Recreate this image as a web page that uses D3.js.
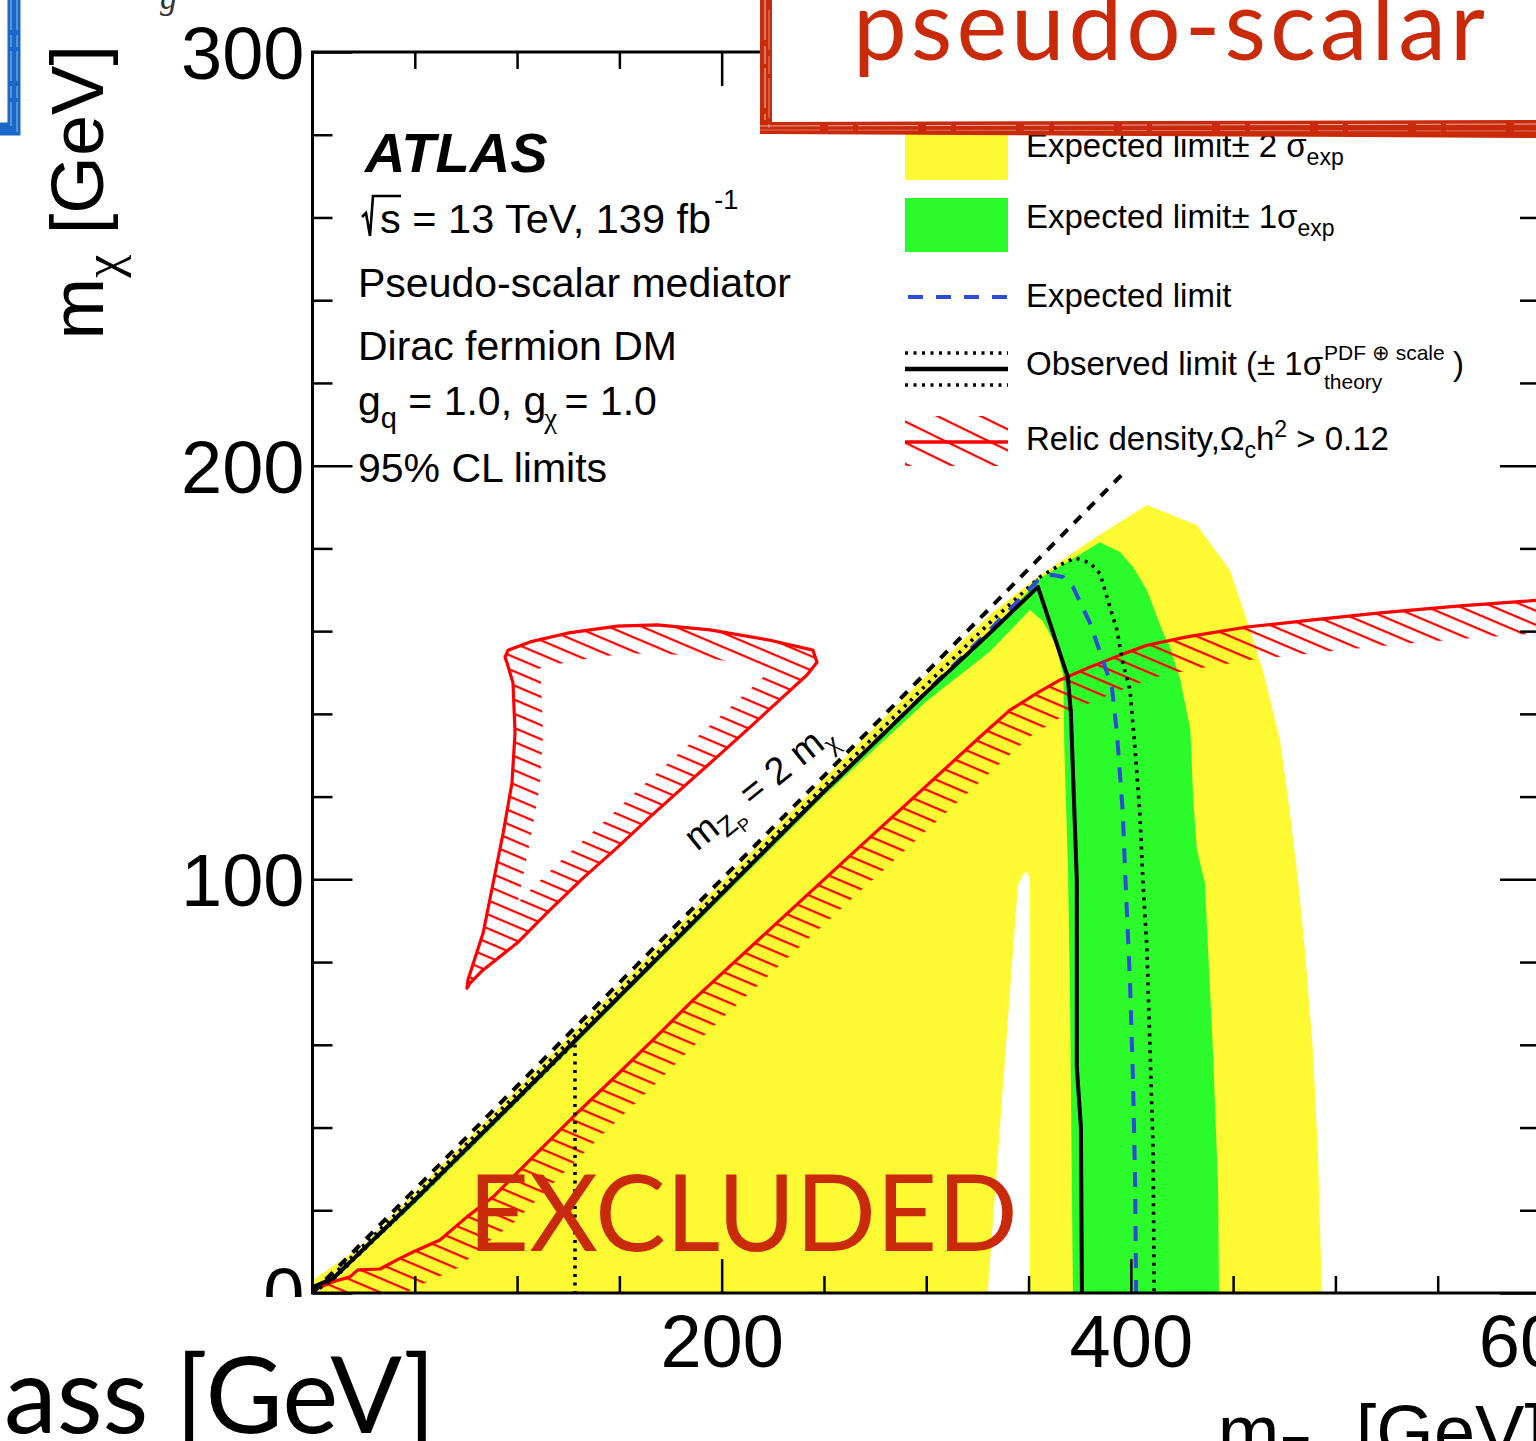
<!DOCTYPE html>
<html>
<head>
<meta charset="utf-8">
<script src="https://cdn.jsdelivr.net/npm/d3@7"></script>
<style>
  html, body { margin: 0; padding: 0; background: #fff; overflow: hidden; }
  svg { display: block; }
  text { white-space: pre; }
</style>
</head>
<body>
<svg id="chart" width="1536" height="1441"></svg>
<script>
// ---- axis ranges and ticks (GeV) ----
const xDomain = [0, 600];
const yDomain = [0, 300];
const xMajorTicks = [200, 400, 600];
const xMinorTicks = [50, 100, 150, 250, 300, 350, 450, 500, 550];
const yMajorTicks = [0, 100, 200, 300];
const yMinorTicks = [20, 40, 60, 80, 120, 140, 160, 180, 220, 240, 260, 280];

// ---- exclusion contours, [m_Zp, m_chi] in GeV ----
const expPlus2 = [[0,0],[0,3],[25,11.8],[50,24.3],[100,49.3],[150,74.3],[200,99.3],[250,124.3],[300,149.2],
  [331,163.9],[352.2,172.3],[380,181.8],[407.9,190.5],[432.3,185.6],[448.4,174.8],[456.7,162.7],[464.5,150.6],
  [472.9,133.7],[477.8,116.0],[481.7,99.8],[485.1,82.9],[489.0,58.7],[491.4,34.6],[493.4,0]];
const expPlus1 = [[0,0],[10,3.6],[50,22.6],[100,47.1],[150,71.8],[200,96.6],[250,121.3],[300,145.3],[331,159.6],
  [355.6,172.8],[384.9,181.5],[394.7,179.1],[401.1,175.5],[407.9,169.9],[412.8,163.4],[415.9,159.5],[419.1,156.2],
  [424.2,148.2],[429.1,136.1],[430.5,119.2],[432.3,107.1],[436.2,99.1],[440.1,58.7],[442.6,26.6],[443.1,0]];
const expMinus1 = [[0,0],[10,3],[50,21.5],[100,46],[150,70.8],[200,95.5],[250,120.2],[300,143],[331,155],
  [350.7,165.1],[357,162.4],[363.8,156.2],[367,149],[367.5,132],[369.3,102.2],[370.3,70.8],[371.7,0]];
const expMinus2 = [[330,0],[344.8,98.6],[347.7,101.5],[349.6,101.8],[350.6,99.8],[350.6,0]];

const expected = [[0.5,1.5],[10,3.5],[50,22.5],[100,47],[150,71.7],[200,96.5],[250,121.2],[300,145.3],[331,160.2],
  [354.6,172.3],[361.4,173.6],[366.8,173.1],[371.7,170.7],[380.0,162.0],[386.3,153.0],[390.7,146.5],[393.2,135.4],
  [396.1,116.0],[397.1,103.0],[399.6,74.9],[401.1,50.8],[402.1,26.6],[402.6,0]];
const observed = [[0.5,1.5],[10,3.5],[50,22.5],[100,47],[150,71.7],[200,96.5],[250,121.2],[300,145.2],[331,159.5],
  [354.6,170.7],[369.2,148.9],[370.7,140.2],[373.6,99.8],[373.6,54.6],[375.6,40.1],[376.1,0]];
const obsTheoryUp = [[0,0],[10,4.3],[50,23.5],[100,48.2],[150,73],[200,97.7],[250,122.5],[300,147],[331,162],
  [355.6,173.1],[365.4,176.0],[372.7,177.7],[380.0,176.5],[384.9,173.9],[388.8,167.5],[393.2,160.3],[396.1,152.3],
  [399.6,145.8],[402.0,132.0],[404.4,116.0],[405.9,99.8],[407.9,82.9],[409.4,58.7],[410.9,34.6],[411.4,0]];
const obsTheoryDown = [[0,0],[10,3.3],[50,22.3],[100,46.8],[128.3,60.6],[128.3,0]];
const kinematicLimit = [[0,0],[396,198]];

// ---- relic density contours ----
const relicLower = [[1,0.5],[2.7,1.2],[10,2.7],[18.3,3.9],[22.2,5.6],[33,5.8],[41.3,8],[49.1,9.9],[62.3,12.8],
  [75.5,18.4],[88.2,23.2],[107.8,32.9],[129.3,43.5],[148.8,52.7],[169.8,62.8],[186.0,70.8],[257.8,103.5],
  [326.2,134.4],[340.9,140.9],[354.1,145.0],[365.4,148.2],[380.0,151.3],[394.7,154.2],[407.9,156.6],
  [427.4,158.6],[456.7,161.0],[489.0,162.7],[521.8,164.4],[560.9,166.1],[600,167.5]];
const relicIsland = [[95.6,155.4],[106.4,157.4],[124.5,159.5],[148.9,161.2],[168.4,161.5],[194.3,160.3],
  [223.7,157.8],[244.6,155.4],[246.6,152.5],[241.7,149.4],[230.0,144.1],[213.9,136.8],[197.8,129.6],
  [181.2,122.3],[165.0,115.1],[148.8,107.6],[132.2,100.3],[116.1,92.6],[100.0,84.6],[83.4,78.1],[77.0,74.9],
  [75.5,73.7],[76.0,75.7],[83.4,87.0],[88.3,99.1],[93.2,111.2],[97.5,123.3],[99.0,135.4],[98.0,147.5],
  [95.1,152.3],[94.1,153.7]];

// ---- text ----
const infoLines = ["Pseudo-scalar mediator", "Dirac fermion DM", "95% CL limits"];
const legendLabels = ["Expected limit", "Observed limit (\u00b1 1", "Relic density,"];

const SANS = "'Liberation Sans', Arial, Helvetica, sans-serif";
const SERIF = "'Liberation Serif', 'Times New Roman', serif";
const LATO = "Lato, 'Open Sans', sans-serif";
const YELLOW = "#fdf933", GREEN = "#2bfb2b", BLUE = "#2b4bd8", RED = "#ff0000", SLIDE_RED = "#c92a0a";

const svg = d3.select("#chart");
const x = d3.scaleLinear().domain(xDomain).range([312.5, 1540]);
const y = d3.scaleLinear().domain(yDomain).range([1293, 52]);
const line = d3.line().x(d => x(d[0])).y(d => y(d[1]));
const closed = pts => line(pts) + "Z";

const defs = svg.append("defs");
defs.append("clipPath").attr("id", "plotArea").append("rect")
  .attr("x", x(0)).attr("y", y(300)).attr("width", x(600) - x(0)).attr("height", y(0) - y(300));

// hatches marking the relic-density excluded side
function hatchPattern(id, spacing, angle) {
  const p = defs.append("pattern").attr("id", id).attr("patternUnits", "userSpaceOnUse")
    .attr("width", 80).attr("height", spacing).attr("patternTransform", `rotate(${angle})`);
  p.append("rect").attr("x", 0).attr("y", 0).attr("width", 80).attr("height", 2.2).attr("fill", RED);
}
hatchPattern("hatch", 13, 23);
hatchPattern("hatchKey", 19, 26);

const relicBelow = relicLower.concat([[620, 167.5], [620, -20], [0, -20], [0, 0.5]]);
defs.append("clipPath").attr("id", "relicLowerSide").append("path").attr("d", closed(relicBelow));
defs.append("clipPath").attr("id", "relicIslandInside").append("path").attr("d", closed(relicIsland));

// ---------------- plot contents ----------------
const plot = svg.append("g").attr("clip-path", "url(#plotArea)");

plot.append("path").attr("d", closed(expPlus2)).attr("fill", YELLOW);
plot.append("path").attr("d", closed(expPlus1)).attr("fill", GREEN);
plot.append("path").attr("d", closed(expMinus1)).attr("fill", YELLOW);
plot.append("path").attr("d", closed(expMinus2)).attr("fill", "#fff");

// relic density: hatched band on the excluded side, then the contour itself
plot.append("g").attr("clip-path", "url(#relicLowerSide)")
  .append("path").attr("d", line(relicLower)).attr("fill", "none")
  .attr("stroke", "url(#hatch)").attr("stroke-width", 66).attr("stroke-linejoin", "round");
plot.append("g").attr("clip-path", "url(#relicIslandInside)")
  .append("path").attr("d", closed(relicIsland)).attr("fill", "none")
  .attr("stroke", "url(#hatch)").attr("stroke-width", 56).attr("stroke-linejoin", "round");
plot.append("path").attr("d", line(relicLower)).attr("fill", "none").attr("stroke", RED)
  .attr("stroke-width", 3.2).attr("stroke-linejoin", "round");
plot.append("path").attr("d", closed(relicIsland)).attr("fill", "none").attr("stroke", RED)
  .attr("stroke-width", 3.2).attr("stroke-linejoin", "round");

// m_Zp = 2 m_chi
plot.append("path").attr("d", line(kinematicLimit)).attr("fill", "none").attr("stroke", "#000")
  .attr("stroke-width", 4).attr("stroke-dasharray", "10,9");

// observed +-1 sigma theory
[obsTheoryUp, obsTheoryDown].forEach(c => {
  plot.append("path").attr("d", line(c)).attr("fill", "none").attr("stroke", "#000")
    .attr("stroke-width", 3.6).attr("stroke-dasharray", "3,5.5");
});
// expected
plot.append("path").attr("d", line(expected)).attr("fill", "none").attr("stroke", BLUE)
  .attr("stroke-width", 4).attr("stroke-dasharray", "15,12");
// observed
plot.append("path").attr("d", line(observed)).attr("fill", "none").attr("stroke", "#000")
  .attr("stroke-width", 4).attr("stroke-linejoin", "round");

// ---------------- axes ----------------
function styleAxis(g) {
  g.select(".domain").remove();
  g.selectAll(".tick line").attr("stroke", "#000").attr("stroke-width", 2.5);
  g.selectAll(".tick text").attr("font-family", SANS).attr("font-size", 74).attr("fill", "#000");
}
const axes = svg.append("g");
axes.append("g").attr("transform", `translate(0,${y(0)})`)
  .call(d3.axisBottom(x).tickValues(xMajorTicks).tickSize(-34).tickPadding(21).tickFormat(d3.format("d")))
  .call(styleAxis);
axes.append("g").attr("transform", `translate(0,${y(0)})`)
  .call(d3.axisBottom(x).tickValues(xMinorTicks).tickSize(-17).tickFormat(() => "")).call(styleAxis);
axes.append("g").attr("transform", `translate(0,${y(300)})`)
  .call(d3.axisTop(x).tickValues(xMajorTicks).tickSize(-34).tickFormat(() => "")).call(styleAxis);
axes.append("g").attr("transform", `translate(0,${y(300)})`)
  .call(d3.axisTop(x).tickValues(xMinorTicks).tickSize(-17).tickFormat(() => "")).call(styleAxis);
const yAx = axes.append("g").attr("transform", `translate(${x(0)},0)`)
  .call(d3.axisLeft(y).tickValues(yMajorTicks).tickSize(-40).tickPadding(8).tickFormat(d3.format("d")))
  .call(styleAxis);
yAx.selectAll(".tick text").attr("dy", "0.36em");
axes.append("g").attr("transform", `translate(${x(0)},0)`)
  .call(d3.axisLeft(y).tickValues(yMinorTicks).tickSize(-20).tickFormat(() => "")).call(styleAxis);
axes.append("g").attr("transform", `translate(${x(600)},0)`)
  .call(d3.axisRight(y).tickValues(yMajorTicks).tickSize(-40).tickFormat(() => "")).call(styleAxis);
axes.append("g").attr("transform", `translate(${x(600)},0)`)
  .call(d3.axisRight(y).tickValues(yMinorTicks).tickSize(-20).tickFormat(() => "")).call(styleAxis);
axes.append("rect").attr("x", x(0)).attr("y", y(300)).attr("width", x(600) - x(0)).attr("height", y(0) - y(300))
  .attr("fill", "none").attr("stroke", "#000").attr("stroke-width", 3);

// ---------------- text helpers ----------------
function rich(parent, px, py, parts, opts = {}) {
  const t = parent.append("text").attr("x", px).attr("y", py)
    .attr("font-family", opts.font || SANS).attr("font-size", opts.size || 32).attr("fill", opts.fill || "#000");
  if (opts.anchor) t.attr("text-anchor", opts.anchor);
  let cur = 0;
  parts.forEach(p => {
    const s = t.append("tspan").text(p.t);
    const shift = p.shift || 0;
    if (shift !== cur) { s.attr("dy", shift - cur); cur = shift; }
    if (p.size) s.attr("font-size", p.size);
    if (p.font) s.attr("font-family", p.font);
    if (p.style) s.attr("font-style", p.style);
    if (p.weight) s.attr("font-weight", p.weight);
    if (p.dx) s.attr("dx", p.dx);
  });
  return t;
}

// axis titles
const yTitle = svg.append("g").attr("transform", "translate(103,45) rotate(-90)");
rich(yTitle, 0, 0, [{ t: "m" }, { t: "\u03c7", size: 52, shift: 17, font: SERIF }, { t: " [GeV]", shift: 0 }],
  { size: 74, anchor: "end" });
rich(svg, 1545, 1457, [{ t: "m" }, { t: "Z", size: 52, shift: 16 }, { t: "P", size: 36, shift: 28 },
  { t: " [GeV]", shift: 0 }], { size: 74, anchor: "end" });

// ATLAS block
svg.append("text").attr("x", 365).attr("y", 172).attr("font-family", SANS).attr("font-size", 56)
  .attr("font-weight", "bold").attr("font-style", "italic").text("ATLAS");
svg.append("path").attr("d", "M362,217 L366,213 L370,236 L373,196 L401,196")
  .attr("fill", "none").attr("stroke", "#000").attr("stroke-width", 2.6);
rich(svg, 380, 233, [{ t: "s = 13 TeV, 139 fb" }, { t: "-1", size: 27, shift: -24, dx: 3 }], { size: 41.5 });
svg.append("text").attr("x", 358).attr("y", 297).attr("font-family", SANS).attr("font-size", 41).text(infoLines[0]);
svg.append("text").attr("x", 358).attr("y", 360).attr("font-family", SANS).attr("font-size", 41).text(infoLines[1]);
rich(svg, 358, 415, [{ t: "g" }, { t: "q", size: 29, shift: 13 }, { t: " = 1.0, g", shift: 0 },
  { t: "\u03c7", size: 29, shift: 13, font: SERIF, dx: -2 }, { t: " = 1.0", shift: 0, dx: -4 }], { size: 41 });
svg.append("text").attr("x", 358).attr("y", 482).attr("font-family", SANS).attr("font-size", 41).text(infoLines[2]);

// diagonal label
const diagLabel = svg.append("g").attr("transform", "translate(697,852) rotate(-39)");
rich(diagLabel, 0, 0, [{ t: "m" }, { t: "Z", size: 27, shift: 8 }, { t: "P", size: 18, shift: 15 },
  { t: " = 2 m", shift: 0 }, { t: "\u03c7", size: 27, shift: 8, font: SERIF }], { size: 38 });

// ---------------- legend ----------------
const lg = svg.append("g");
const lx0 = 905, lx1 = 1008, tx = 1026;
lg.append("rect").attr("x", lx0).attr("y", 126).attr("width", lx1 - lx0).attr("height", 54).attr("fill", YELLOW);
lg.append("rect").attr("x", lx0).attr("y", 198).attr("width", lx1 - lx0).attr("height", 54).attr("fill", GREEN);
lg.append("line").attr("x1", lx0 + 3).attr("x2", lx1).attr("y1", 297).attr("y2", 297)
  .attr("stroke", BLUE).attr("stroke-width", 4).attr("stroke-dasharray", "15,13");
[353, 385].forEach(v => lg.append("line").attr("x1", lx0).attr("x2", lx1).attr("y1", v).attr("y2", v)
  .attr("stroke", "#000").attr("stroke-width", 3.6).attr("stroke-dasharray", "3,5.5"));
lg.append("line").attr("x1", lx0).attr("x2", lx1).attr("y1", 369).attr("y2", 369)
  .attr("stroke", "#000").attr("stroke-width", 4.5);
lg.append("rect").attr("x", lx0).attr("y", 416).attr("width", lx1 - lx0).attr("height", 50).attr("fill", "url(#hatchKey)");
lg.append("line").attr("x1", lx0).attr("x2", lx1).attr("y1", 442).attr("y2", 442)
  .attr("stroke", RED).attr("stroke-width", 3.5);

rich(lg, tx, 157, [{ t: "Expected limit\u00b1 2 \u03c3" }, { t: "exp", size: 23, shift: 8 }], { size: 33 });
rich(lg, tx, 228, [{ t: "Expected limit\u00b1 1\u03c3" }, { t: "exp", size: 23, shift: 8 }], { size: 33 });
rich(lg, tx, 307, [{ t: legendLabels[0] }], { size: 33 });
rich(lg, tx, 375, [{ t: legendLabels[1] + "\u03c3" }], { size: 33 });
rich(lg, 1324, 360, [{ t: "PDF \u2295 scale" }], { size: 21 });
rich(lg, 1324, 389, [{ t: "theory" }], { size: 21 });
rich(lg, 1453, 375, [{ t: ")" }], { size: 33 });
rich(lg, tx, 450, [{ t: legendLabels[2] + "\u03a9" }, { t: "c", size: 23, shift: 8 }, { t: "h", shift: 0 },
  { t: "2", size: 23, shift: -13 }, { t: " > 0.12", shift: 0 }], { size: 33 });

// ---------------- slide annotations ----------------
svg.append("text").attr("x", 468).attr("y", 1251).attr("font-family", LATO).attr("font-size", 106)
  .attr("fill", SLIDE_RED).text("EXCLUDED");

// lower-left caption panel
svg.append("rect").attr("x", 0).attr("y", 1297).attr("width", 645).attr("height", 150).attr("fill", "#fff");
svg.append("text").attr("x", 4).attr("y", 1433).attr("font-family", LATO).attr("font-size", 106)
  .attr("fill", "#000").text("ass [GeV]");

// red-framed title box
svg.append("rect").attr("x", 766).attr("y", -10).attr("width", 800).attr("height", 136).attr("fill", "#fff");
svg.append("path").attr("d", "M760,0 L772,0 L772,134 L760,134 Z").attr("fill", SLIDE_RED);
svg.append("path").attr("d", "M760,122 L1540,120 L1540,138 L760,134 Z").attr("fill", SLIDE_RED);
[[765, 0, 765, 120, 0.7], [769, 10, 769, 128, 0.45]].forEach(s =>
  svg.append("line").attr("x1", s[0]).attr("y1", s[1]).attr("x2", s[2]).attr("y2", s[3])
    .attr("stroke", "#fff").attr("stroke-width", 1).attr("opacity", s[4]).attr("stroke-dasharray", "40,6,18,4"));
[[760, 126, 1540, 124, 0.6], [760, 130, 1540, 131, 0.35]].forEach(s =>
  svg.append("line").attr("x1", s[0]).attr("y1", s[1]).attr("x2", s[2]).attr("y2", s[3])
    .attr("stroke", "#fff").attr("stroke-width", 1).attr("opacity", s[4]).attr("stroke-dasharray", "60,8,25,5"));
svg.append("text").attr("x", 853).attr("y", 60).attr("font-family", LATO).attr("font-size", 96)
  .attr("letter-spacing", 4).attr("fill", SLIDE_RED).text("pseudo-scalar");

// blue frame corner at the left edge
svg.append("path").attr("d", "M14,-5 L14,129 L-5,129").attr("fill", "none")
  .attr("stroke", "#1a68c8").attr("stroke-width", 13);
[[11, 0, 11, 126], [17, 0, 17, 132]].forEach(s =>
  svg.append("line").attr("x1", s[0]).attr("y1", s[1]).attr("x2", s[2]).attr("y2", s[3])
    .attr("stroke", "#fff").attr("stroke-width", 1).attr("opacity", 0.55).attr("stroke-dasharray", "30,5,12,4"));
svg.append("text").attr("x", 160).attr("y", 9).attr("font-family", SERIF).attr("font-style", "italic")
  .attr("font-size", 34).attr("fill", "#333").text("g");
</script>
</body>
</html>
